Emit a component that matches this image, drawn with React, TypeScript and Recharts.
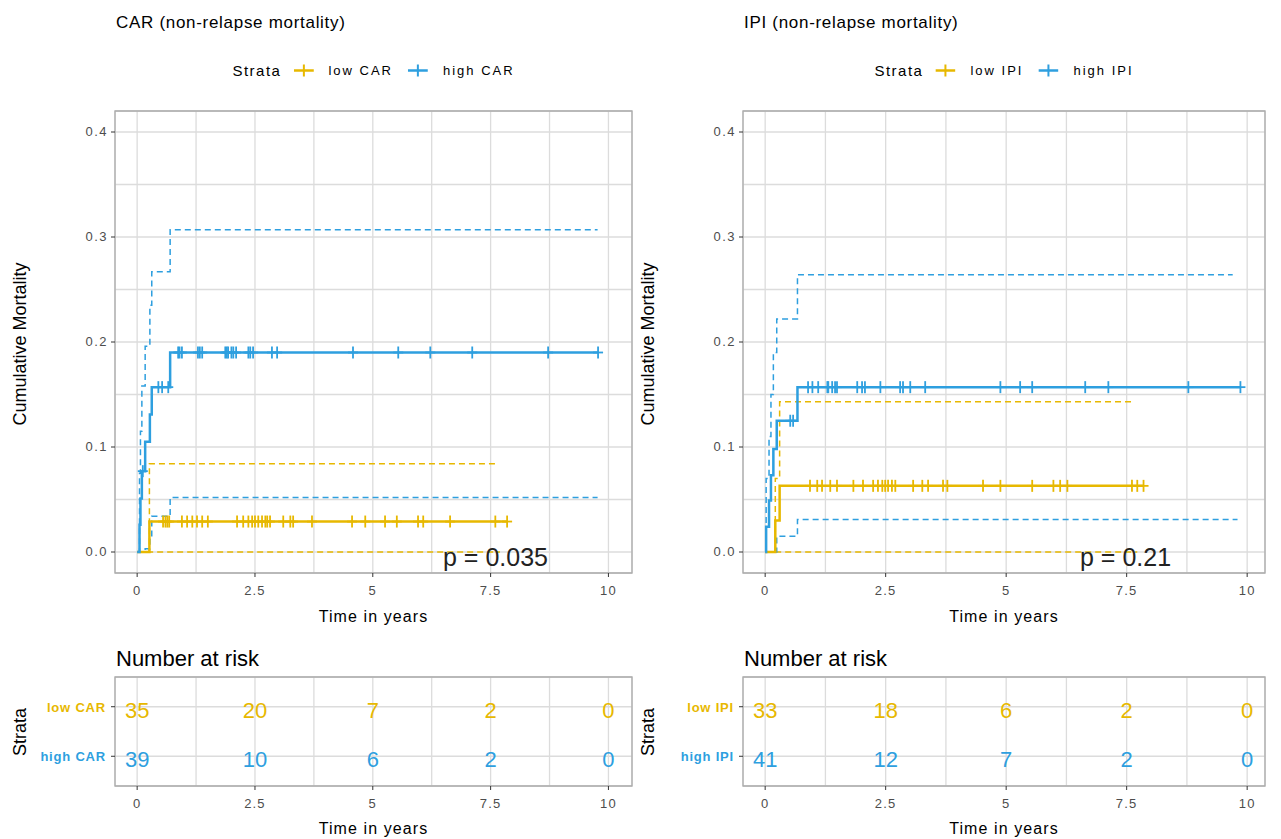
import React from "react";
import {
  CartesianGrid,
  ComposedChart,
  Line,
  ReferenceArea,
  Scatter,
  XAxis,
  YAxis,
} from "recharts";

type Pt = [number, number];

const YELLOW = "#E7B800";
const BLUE = "#2E9FDF";
const FONT = "'Liberation Sans', Arial, sans-serif";

// axis breaks (major + minor grid) and labelled ticks
const timeBreaks = [0, 1.25, 2.5, 3.75, 5, 6.25, 7.5, 8.75, 10];
const timeLabels = [0, 2.5, 5, 7.5, 10];
const mortBreaks = [0, 0.05, 0.1, 0.15, 0.2, 0.25, 0.3, 0.35, 0.4];
const riskTimes = [0, 2.5, 5, 7.5, 10];

// CAR panel: [time, cumulative mortality]
const carLowEst: Pt[] = [[0, 0], [0.26, 0.029], [7.85, 0.029]];
const carLowUpper: Pt[] = [[0, 0], [0.26, 0.084], [7.63, 0.084]];
const carLowLower: Pt[] = [[0, 0], [7.7, 0]];
const carHighEst: Pt[] = [[0, 0], [0.05, 0.026], [0.07, 0.051], [0.1, 0.077], [0.17, 0.105], [0.27, 0.131], [0.31, 0.157], [0.7, 0.19], [9.78, 0.19]];
const carHighUpper: Pt[] = [[0, 0], [0.05, 0.075], [0.07, 0.115], [0.1, 0.158], [0.17, 0.196], [0.27, 0.235], [0.31, 0.267], [0.7, 0.307], [9.77, 0.307]];
const carHighLower: Pt[] = [[0, 0], [0.17, 0.003], [0.27, 0.013], [0.31, 0.034], [0.7, 0.052], [9.77, 0.052]];
const carLowCensor = [0.55, 0.6, 0.64, 0.68, 0.95, 1.06, 1.17, 1.27, 1.38, 1.5, 2.12, 2.25, 2.36, 2.44, 2.5, 2.57, 2.65, 2.72, 2.76, 2.82, 3.1, 3.25, 3.31, 3.71, 4.56, 4.84, 5.26, 5.51, 5.96, 6.07, 6.64, 7.6, 7.85];
const carHighCensor = [0.12, 0.45, 0.53, 0.66, 0.87, 0.9, 0.95, 1.29, 1.33, 1.38, 1.87, 1.9, 1.93, 2.0, 2.04, 2.1, 2.36, 2.4, 2.46, 2.86, 2.97, 4.58, 5.54, 6.22, 7.11, 8.72, 9.78];
const carRiskLow = [35, 20, 7, 2, 0];
const carRiskHigh = [39, 10, 6, 2, 0];

// IPI panel
const ipiLowEst: Pt[] = [[0, 0], [0.21, 0.03], [0.3, 0.063], [7.85, 0.063]];
const ipiLowUpper: Pt[] = [[0, 0], [0.21, 0.07], [0.3, 0.143], [7.62, 0.143]];
const ipiLowLower: Pt[] = [[0, 0], [7.72, 0]];
const ipiHighEst: Pt[] = [[0, 0], [0.02, 0.024], [0.08, 0.049], [0.12, 0.073], [0.17, 0.098], [0.24, 0.125], [0.67, 0.157], [9.86, 0.157]];
const ipiHighUpper: Pt[] = [[0, 0], [0.02, 0.07], [0.08, 0.11], [0.12, 0.15], [0.17, 0.19], [0.24, 0.222], [0.67, 0.264], [9.7, 0.264]];
const ipiHighLower: Pt[] = [[0, 0], [0.24, 0.015], [0.67, 0.031], [9.8, 0.031]];
const ipiLowCensor = [0.93, 1.08, 1.18, 1.35, 1.49, 1.83, 2.03, 2.24, 2.34, 2.43, 2.49, 2.55, 2.63, 2.7, 3.07, 3.26, 3.38, 3.69, 3.78, 4.52, 4.88, 5.54, 5.98, 6.12, 6.27, 7.61, 7.72, 7.85];
const ipiHighCensor = [0.52, 0.58, 0.89, 0.98, 1.1, 1.29, 1.31, 1.39, 1.45, 1.49, 1.91, 2.01, 2.07, 2.39, 2.8, 2.86, 3.01, 3.32, 4.88, 5.29, 5.54, 6.64, 7.12, 8.78, 9.86];
const ipiRiskLow = [33, 18, 6, 2, 0];
const ipiRiskHigh = [41, 12, 7, 2, 0];

type Curve = {
  name: string;
  color: string;
  est: Pt[];
  upper: Pt[];
  lower: Pt[];
  censor: number[];
  risk: number[];
};

const toPts = (a: Pt[]) => a.map(([t, v]) => ({ t, v }));
const stepAt = (a: Pt[], t: number) => {
  let v = 0;
  for (const p of a) if (p[0] <= t) v = p[1];
  return v;
};

const Txt = ({ x, y, size, children, anchor = "middle", rotate = 0, color = "#000", weight = 400, spacing = 0 }: any) => {
  const tx = anchor === "middle" ? "-50%" : anchor === "end" ? "-100%" : "0";
  return (
    <div
      style={{
        position: "absolute",
        left: x,
        top: y,
        transform: `translate(${tx}, -50%) rotate(${rotate}deg)`,
        fontSize: size,
        color,
        fontWeight: weight,
        fontFamily: FONT,
        letterSpacing: spacing,
        whiteSpace: "nowrap",
        lineHeight: 1,
      }}
    >
      {children}
    </div>
  );
};

const Cross = (props: any) => {
  const { cx, cy, fill } = props;
  if (cx == null || cy == null) return <g />;
  return (
    <g stroke={fill} strokeWidth={1.8}>
      <line x1={cx} x2={cx} y1={cy - 6} y2={cy + 6} />
      <line x1={cx - 5} x2={cx + 5} y1={cy} y2={cy} />
    </g>
  );
};

const XTick = (props: any) => {
  const { x, y, payload } = props;
  const v = payload.value;
  if (!timeLabels.includes(v)) return <g />;
  return (
    <g>
      <line x1={x} x2={x} y1={y} y2={y + 4} stroke="#333" />
      <text x={x} y={y + 22} textAnchor="middle" fontSize={13} letterSpacing={1.2} fill="#4D4D4D" fontFamily={FONT}>
        {String(v)}
      </text>
    </g>
  );
};

const YTick = (props: any) => {
  const { x, y, payload } = props;
  const v = payload.value;
  if (Math.abs(v * 10 - Math.round(v * 10)) > 1e-6) return <g />;
  return (
    <g>
      <line x1={x - 4} x2={x} y1={y} y2={y} stroke="#333" />
      <text x={x - 7} y={y + 4} textAnchor="end" fontSize={13} letterSpacing={1.5} fill="#4D4D4D" fontFamily={FONT}>
        {v.toFixed(1)}
      </text>
    </g>
  );
};

const LegendKey = ({ color }: { color: string }) => (
  <svg width={20} height={14} style={{ display: "block" }}>
    <line x1={0} x2={20} y1={7} y2={7} stroke={color} strokeWidth={2.5} />
    <line x1={10} x2={10} y1={1} y2={13} stroke={color} strokeWidth={2} />
  </svg>
);

type PanelProps = {
  left: number;
  width: number;
  plotLeft: number;
  plotRight: number;
  domain: [number, number];
  title: string;
  curves: Curve[];
  pText: string;
  pX: number;
};

const Panel = ({ left, width, plotLeft, plotRight, domain, title, curves, pText, pX }: PanelProps) => {
  const yW = 40;
  const mid = (plotLeft + plotRight) / 2;
  const riskYW = 60;
  return (
    <>
      <Txt x={plotLeft + 1} y={22} size={17} spacing={0.7} anchor="start">{title}</Txt>
      <div
        style={{
          position: "absolute",
          left: mid,
          top: 70,
          transform: "translate(-50%, -50%)",
          display: "flex",
          alignItems: "center",
          fontFamily: FONT,
          whiteSpace: "nowrap",
        }}
      >
        <span style={{ fontSize: 15, letterSpacing: 1.5, marginRight: 12 }}>Strata</span>
        {curves.map((c, i) => (
          <React.Fragment key={c.name}>
            <LegendKey color={c.color} />
            <span style={{ fontSize: 13, letterSpacing: 2, marginLeft: 15, marginRight: i === 0 ? 15 : 0 }}>{c.name}</span>
          </React.Fragment>
        ))}
      </div>

      <div style={{ position: "absolute", left, top: 0 }}>
        <ComposedChart
          width={width}
          height={640}
          margin={{ top: 111, bottom: 37, left: plotLeft - left - yW, right: left + width - plotRight }}
        >
          <CartesianGrid stroke="#DCDCDC" strokeWidth={1.3} />
          <XAxis
            type="number"
            dataKey="t"
            domain={domain}
            ticks={timeBreaks}
            interval={0}
            allowDataOverflow
            axisLine={false}
            tickLine={false}
            tickSize={0}
            tickMargin={0}
            height={30}
            tick={<XTick />}
          />
          <YAxis
            type="number"
            dataKey="v"
            domain={[-0.02, 0.42]}
            ticks={mortBreaks}
            interval={0}
            allowDataOverflow
            axisLine={false}
            tickLine={false}
            tickSize={0}
            tickMargin={0}
            width={yW}
            tick={<YTick />}
          />
          {curves.map((c) => (
            <Line key={c.name + "u"} data={toPts(c.upper)} dataKey="v" type="stepAfter" stroke={c.color} strokeWidth={1.5} strokeDasharray="6 4" dot={false} isAnimationActive={false} />
          ))}
          {curves.map((c) => (
            <Line key={c.name + "l"} data={toPts(c.lower)} dataKey="v" type="stepAfter" stroke={c.color} strokeWidth={1.5} strokeDasharray="6 4" dot={false} isAnimationActive={false} />
          ))}
          {curves.map((c) => (
            <Line key={c.name + "e"} data={toPts(c.est)} dataKey="v" type="stepAfter" stroke={c.color} strokeWidth={2.5} dot={false} isAnimationActive={false} />
          ))}
          {curves.map((c) => (
            <Scatter
              key={c.name + "c"}
              data={c.censor.map((t) => ({ t, v: stepAt(c.est, t) }))}
              dataKey="v"
              fill={c.color}
              shape={<Cross />}
              isAnimationActive={false}
            />
          ))}
          <ReferenceArea x1={domain[0]} x2={domain[1]} y1={-0.02} y2={0.42} fill="none" stroke="#ABABAB" strokeWidth={1.3} ifOverflow="visible" />
        </ComposedChart>
      </div>
      <Txt x={plotLeft - 95} y={344} size={18} rotate={-90}>Cumulative Mortality</Txt>
      <Txt x={mid} y={617} size={16} spacing={1.1}>Time in years</Txt>
      <Txt x={pX} y={557} size={25} anchor="start" color="#222">{pText}</Txt>

      <Txt x={plotLeft + 1} y={659} size={22} anchor="start">Number at risk</Txt>
      <div style={{ position: "absolute", left, top: 640 }}>
        <ComposedChart
          width={width}
          height={199}
          margin={{ top: 37, bottom: 28, left: plotLeft - left - riskYW, right: left + width - plotRight }}
        >
          <CartesianGrid stroke="#DCDCDC" strokeWidth={1.3} />
          <XAxis
            type="number"
            dataKey="t"
            domain={domain}
            ticks={timeBreaks}
            interval={0}
            allowDataOverflow
            axisLine={false}
            tickLine={false}
            tickSize={0}
            tickMargin={0}
            height={25}
            tick={<XTick />}
          />
          <YAxis
            type="number"
            dataKey="row"
            domain={[0.4, 2.6]}
            ticks={[1, 2]}
            interval={0}
            allowDataOverflow
            axisLine={false}
            tickLine={false}
            tickSize={0}
            tickMargin={0}
            width={riskYW}
            tick={(p: any) => {
              const c = p.payload.value === 2 ? curves[0] : curves[1];
              return (
                <g>
                  <line x1={p.x - 4} x2={p.x} y1={p.y} y2={p.y} stroke="#333" />
                  <text x={p.x - 9} y={p.y + 5} textAnchor="end" fontSize={13} letterSpacing={0.8} fill={c.color} fontWeight={700} fontFamily={FONT}>
                    {c.name}
                  </text>
                </g>
              );
            }}
          />
          {curves.map((c, i) => (
            <Scatter
              key={c.name + "r"}
              data={riskTimes.map((t, k) => ({ t, row: 2 - i, n: c.risk[k] }))}
              dataKey="row"
              fill={c.color}
              isAnimationActive={false}
              shape={(p: any) => (
                <text x={p.cx} y={p.cy + 11} textAnchor="middle" fontSize={22} fill={c.color} fontFamily={FONT}>
                  {p.payload.n}
                </text>
              )}
            />
          ))}
          <ReferenceArea x1={domain[0]} x2={domain[1]} y1={0.4} y2={2.6} fill="none" stroke="#ABABAB" strokeWidth={1.3} ifOverflow="visible" />
        </ComposedChart>
      </div>
      <Txt x={plotLeft - 95} y={732} size={18} weight={500} rotate={-90}>Strata</Txt>
      <Txt x={mid} y={829} size={16} spacing={1.1}>Time in years</Txt>
    </>
  );
};

const carCurves: Curve[] = [
  { name: "low CAR", color: YELLOW, est: carLowEst, upper: carLowUpper, lower: carLowLower, censor: carLowCensor, risk: carRiskLow },
  { name: "high CAR", color: BLUE, est: carHighEst, upper: carHighUpper, lower: carHighLower, censor: carHighCensor, risk: carRiskHigh },
];
const ipiCurves: Curve[] = [
  { name: "low IPI", color: YELLOW, est: ipiLowEst, upper: ipiLowUpper, lower: ipiLowLower, censor: ipiLowCensor, risk: ipiRiskLow },
  { name: "high IPI", color: BLUE, est: ipiHighEst, upper: ipiHighUpper, lower: ipiHighLower, censor: ipiHighCensor, risk: ipiRiskHigh },
];

const App = () => (
  <div style={{ position: "absolute", left: 0, top: 0, width: 1281, height: 839, background: "#fff", fontFamily: FONT, overflow: "hidden" }}>
    <Panel left={0} width={640} plotLeft={115} plotRight={632} domain={[-0.47, 10.5]} title="CAR (non-relapse mortality)" curves={carCurves} pText="p = 0.035" pX={443} />
    <Panel left={640} width={641} plotLeft={743} plotRight={1265} domain={[-0.46, 10.37]} title="IPI (non-relapse mortality)" curves={ipiCurves} pText="p = 0.21" pX={1080} />
  </div>
);

export default App;
